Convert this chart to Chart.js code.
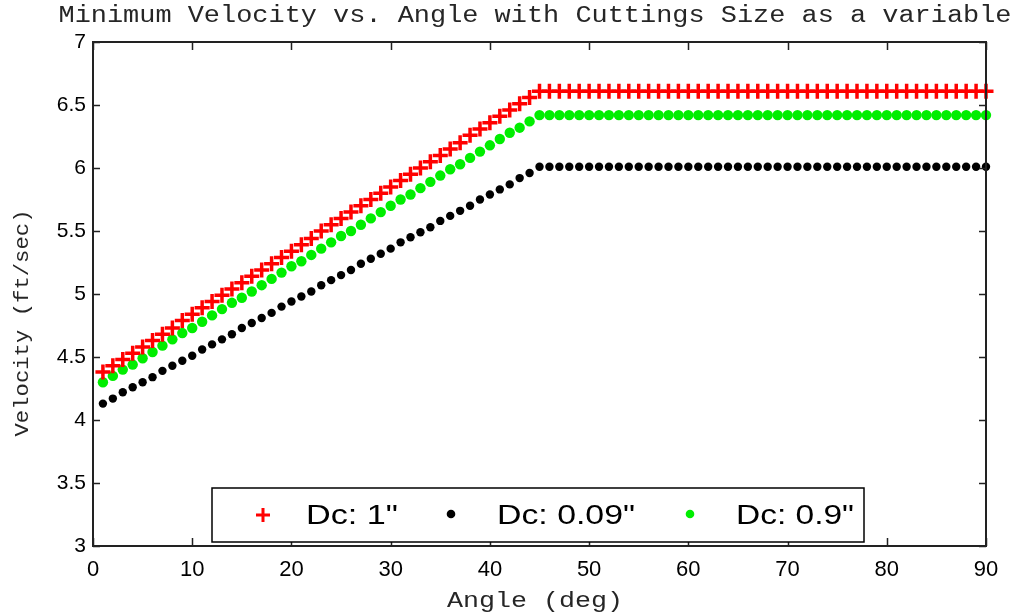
<!DOCTYPE html>
<html>
<head>
<meta charset="utf-8">
<script src="https://cdn.jsdelivr.net/npm/chart.js@4.4.1/dist/chart.umd.min.js"></script>
<style>
  html, body { margin: 0; padding: 0; background: #ffffff; }
  #wrap { width: 1017px; height: 616px; }
</style>
</head>
<body>
<div id="wrap"><canvas id="c" width="1017" height="616"></canvas></div>
<script>
// ---- data ----
const angles = [
  1,2,3,4,5,6,7,8,9,10,
  11,12,13,14,15,16,17,18,19,20,
  21,22,23,24,25,26,27,28,29,30,
  31,32,33,34,35,36,37,38,39,40,
  41,42,43,44,45,46,47,48,49,50,
  51,52,53,54,55,56,57,58,59,60,
  61,62,63,64,65,66,67,68,69,70,
  71,72,73,74,75,76,77,78,79,80,
  81,82,83,84,85,86,87,88,89,90
];
const velocityDc1 = [
  4.38,4.43,4.48,4.53,4.58,4.63,4.68,4.73,4.79,4.84,
  4.89,4.94,4.99,5.04,5.09,5.14,5.19,5.24,5.29,5.34,
  5.39,5.44,5.50,5.55,5.60,5.65,5.70,5.75,5.80,5.85,
  5.90,5.95,6.00,6.05,6.10,6.15,6.20,6.26,6.31,6.36,
  6.41,6.46,6.51,6.56,6.61,6.61,6.61,6.61,6.61,6.61,
  6.61,6.61,6.61,6.61,6.61,6.61,6.61,6.61,6.61,6.61,
  6.61,6.61,6.61,6.61,6.61,6.61,6.61,6.61,6.61,6.61,
  6.61,6.61,6.61,6.61,6.61,6.61,6.61,6.61,6.61,6.61,
  6.61,6.61,6.61,6.61,6.61,6.61,6.61,6.61,6.61,6.61
];
const velocityDc009 = [
  4.13,4.17,4.22,4.26,4.30,4.34,4.39,4.43,4.47,4.51,
  4.56,4.60,4.64,4.68,4.73,4.77,4.81,4.85,4.90,4.94,
  4.98,5.02,5.07,5.11,5.15,5.19,5.24,5.28,5.32,5.36,
  5.41,5.45,5.49,5.53,5.58,5.62,5.66,5.70,5.75,5.79,
  5.83,5.87,5.92,5.96,6.01,6.01,6.01,6.01,6.01,6.01,
  6.01,6.01,6.01,6.01,6.01,6.01,6.01,6.01,6.01,6.01,
  6.01,6.01,6.01,6.01,6.01,6.01,6.01,6.01,6.01,6.01,
  6.01,6.01,6.01,6.01,6.01,6.01,6.01,6.01,6.01,6.01,
  6.01,6.01,6.01,6.01,6.01,6.01,6.01,6.01,6.01,6.01
];
const velocityDc09 = [
  4.30,4.35,4.40,4.44,4.49,4.54,4.59,4.64,4.69,4.73,
  4.78,4.83,4.88,4.93,4.97,5.02,5.07,5.12,5.17,5.22,
  5.26,5.31,5.36,5.41,5.46,5.50,5.55,5.60,5.65,5.70,
  5.75,5.79,5.84,5.89,5.94,5.99,6.03,6.08,6.13,6.18,
  6.23,6.28,6.32,6.37,6.42,6.42,6.42,6.42,6.42,6.42,
  6.42,6.42,6.42,6.42,6.42,6.42,6.42,6.42,6.42,6.42,
  6.42,6.42,6.42,6.42,6.42,6.42,6.42,6.42,6.42,6.42,
  6.42,6.42,6.42,6.42,6.42,6.42,6.42,6.42,6.42,6.42,
  6.42,6.42,6.42,6.42,6.42,6.42,6.42,6.42,6.42,6.42
];
const seriesLabels = ['Dc: 1"', 'Dc: 0.09"', 'Dc: 0.9"'];
const xTicks = [0,10,20,30,40,50,60,70,80,90];
const yTicks = [3,3.5,4,4.5,5,5.5,6,6.5,7];
const titleText = 'Minimum Velocity vs. Angle with Cuttings Size as a variable';
const xTitleText = 'Angle (deg)';
const yTitleText = 'Velocity (ft/sec)';

function pts(vals) { return angles.map((a, i) => ({ x: a, y: vals[i] })); }

// draw text stretched horizontally to a target width (the reference text is wide)
function stretchedText(ctx, text, cx, cy, font, targetW, color, rot) {
  ctx.save();
  ctx.font = font;
  ctx.fillStyle = color;
  ctx.textAlign = 'center';
  ctx.textBaseline = 'middle';
  const w = ctx.measureText(text).width;
  ctx.translate(cx, cy);
  if (rot) ctx.rotate(rot);
  ctx.scale(targetW / w, 1);
  ctx.fillText(text, 0, 0);
  ctx.restore();
}

const overlay = {
  id: 'overlay',
  afterDatasetsDraw(chart) {
    const { ctx, chartArea: a, scales } = chart;
    ctx.save();
    ctx.strokeStyle = '#222222';
    ctx.lineWidth = 1.5;
    ctx.beginPath();
    // inward ticks, all four sides
    xTicks.forEach(v => {
      const px = Math.round(scales.x.getPixelForValue(v)) + 0.5;
      ctx.moveTo(px, a.bottom); ctx.lineTo(px, a.bottom - 8);
      ctx.moveTo(px, a.top); ctx.lineTo(px, a.top + 8);
    });
    yTicks.forEach(v => {
      const py = Math.round(scales.y.getPixelForValue(v)) + 0.5;
      ctx.moveTo(a.left, py); ctx.lineTo(a.left + 7, py);
      ctx.moveTo(a.right, py); ctx.lineTo(a.right - 7, py);
    });
    ctx.stroke();
    ctx.lineWidth = 2;
    ctx.strokeRect(a.left, a.top, a.right - a.left, a.bottom - a.top);
    ctx.restore();
  },
  afterDraw(chart) {
    const { ctx } = chart;
    const ds = chart.data.datasets;
    // titles
    stretchedText(ctx, titleText, 535, 16, '23px "Liberation Mono"', 953, '#262626');
    stretchedText(ctx, xTitleText, 535, 601, '22px "Liberation Mono"', 176, '#262626');
    stretchedText(ctx, yTitleText, 22, 323, '21px "Liberation Mono"', 227, '#262626', -Math.PI / 2);
    // legend box
    ctx.save();
    ctx.fillStyle = '#ffffff';
    ctx.fillRect(212, 488, 652, 54);
    ctx.strokeStyle = '#000000';
    ctx.lineWidth = 1.5;
    ctx.strokeRect(212, 488, 652, 54);
    const cy = 515;
    const marks = [263, 451, 690];
    const textX = [306, 497, 736];
    const textW = [92, 138, 118];
    ds.forEach((d, i) => {
      ctx.save();
      if (d.pointStyle === 'cross') {
        ctx.strokeStyle = d.borderColor;
        ctx.lineWidth = 3;
        ctx.beginPath();
        ctx.moveTo(marks[i] - 7, cy); ctx.lineTo(marks[i] + 7, cy);
        ctx.moveTo(marks[i], cy - 7); ctx.lineTo(marks[i], cy + 7);
        ctx.stroke();
      } else {
        ctx.fillStyle = d.backgroundColor;
        ctx.beginPath();
        ctx.arc(marks[i], cy - 1, 4.3, 0, Math.PI * 2);
        ctx.fill();
      }
      ctx.restore();
      stretchedText(ctx, d.label, textX[i] + textW[i] / 2, cy + 1, '28px "Liberation Sans"', textW[i], '#000000');
    });
    ctx.restore();
  }
};

new Chart(document.getElementById('c'), {
  type: 'scatter',
  data: {
    datasets: [
      { label: seriesLabels[0], data: pts(velocityDc1), pointStyle: 'cross', pointRadius: 7.5,
        borderColor: '#ff0000', backgroundColor: '#ff0000', pointBorderWidth: 3.5, showLine: false, clip: false },
      { label: seriesLabels[1], data: pts(velocityDc009), pointStyle: 'circle', pointRadius: 4.2,
        borderColor: '#000000', backgroundColor: '#000000', pointBorderWidth: 0, showLine: false, clip: false },
      { label: seriesLabels[2], data: pts(velocityDc09), pointStyle: 'circle', pointRadius: 5.2,
        borderColor: '#00ee00', backgroundColor: '#00ee00', pointBorderWidth: 0, showLine: false, clip: false }
    ]
  },
  options: {
    responsive: false,
    animation: false,
    devicePixelRatio: 1,
    events: [],
    layout: { padding: { top: 42, right: 31, left: 0, bottom: 0 } },
    plugins: { legend: { display: false }, tooltip: { enabled: false }, title: { display: false } },
    scales: {
      x: {
        type: 'linear', min: 0, max: 90,
        afterBuildTicks: s => { s.ticks = xTicks.map(v => ({ value: v })); },
        afterFit: s => { s.height = 70; },
        grid: { display: false, drawTicks: false },
        border: { display: false },
        ticks: { color: '#000000', padding: 11, font: { family: '"Liberation Sans"', size: 22 }, maxRotation: 0,
                 callback: v => String(v) }
      },
      y: {
        type: 'linear', min: 3, max: 7,
        afterBuildTicks: s => { s.ticks = yTicks.map(v => ({ value: v })); },
        afterFit: s => { s.width = 93; },
        grid: { display: false, drawTicks: false },
        border: { display: false },
        ticks: { color: '#000000', padding: 7, font: { family: '"Liberation Sans"', size: 21 },
                 callback: v => String(v) }
      }
    }
  },
  plugins: [overlay]
});
</script>
</body>
</html>
